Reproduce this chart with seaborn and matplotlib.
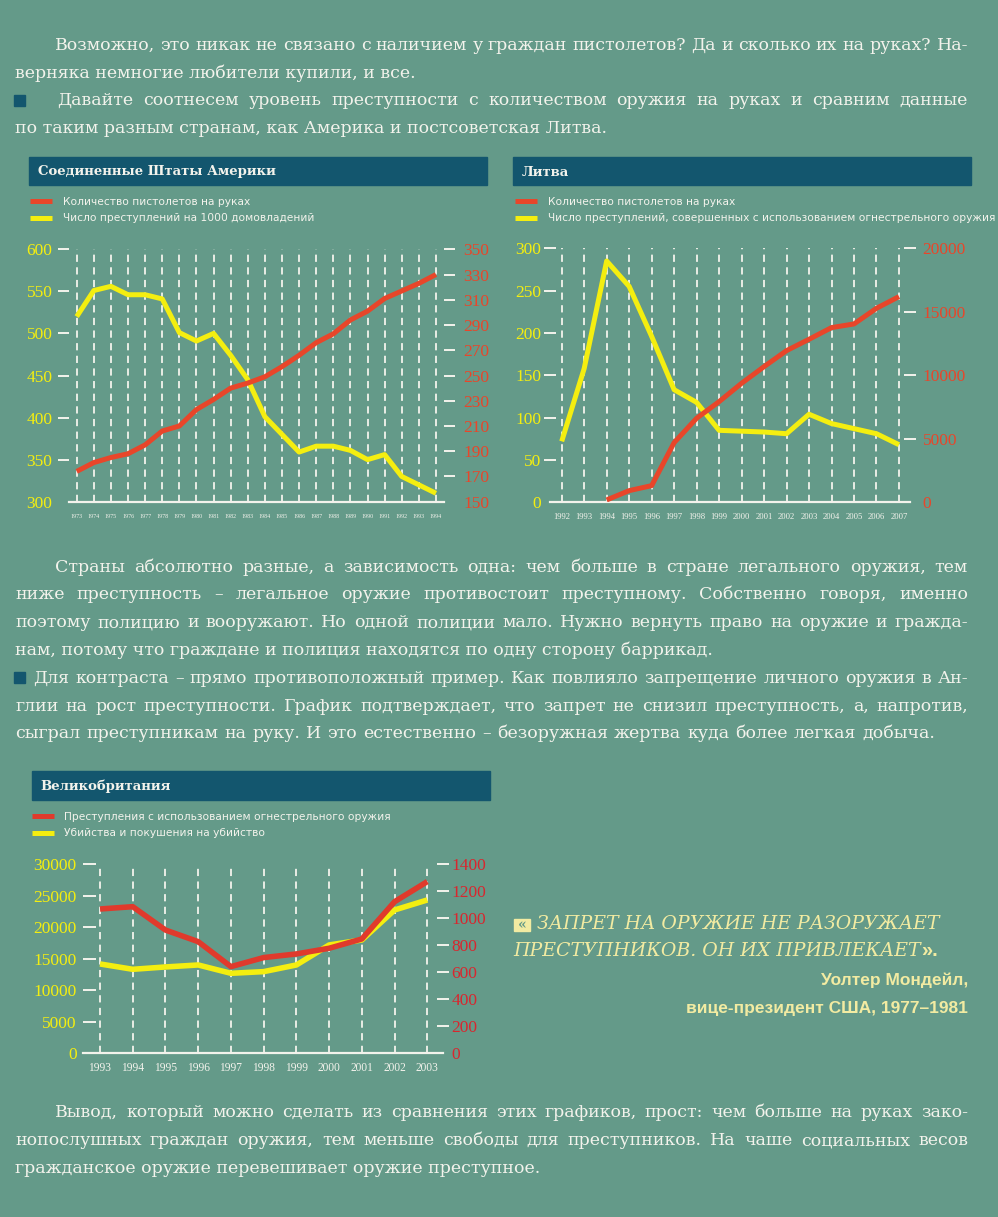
import numpy as np
import pandas as pd
import matplotlib
matplotlib.use('Agg')
import matplotlib.pyplot as plt
import seaborn as sns
from matplotlib.patches import Rectangle
from matplotlib.lines import Line2D

sns.set_style('white')
plt.rcParams['font.family'] = ['DejaVu Sans']

# ---------------- data ----------------
usa_years = list(range(1973, 1995))
usa_crimes = [520, 551, 556, 546, 546, 541, 501, 491, 500, 474, 445, 401,
              380, 359, 366, 366, 361, 350, 356, 330, 320, 310]
usa_guns = [174, 181, 185, 188, 195, 206, 210, 223, 231, 240, 244, 249,
            257, 266, 276, 283, 294, 301, 311, 317, 323, 330]

lt_years = list(range(1992, 2008))
lt_crimes = [72, 158, 285, 255, 196, 133, 118, 85, 84, 83, 81, 104, 93, 87, 81, 68]
lt_gun_years = list(range(1994, 2008))
lt_guns = [184, 919, 1312, 4698, 6614, 7927, 9371, 10683, 11943, 12836,
           13755, 14044, 15278, 16197]

uk_years = list(range(1993, 2004))
uk_gun_crimes = [1069, 1086, 913, 827, 642, 709, 736, 778, 847, 1123, 1272]
uk_murders = [14180, 13333, 13704, 14021, 12698, 12963, 14021, 17196, 17989, 22751, 24339]

usa_left_ticks = [300, 350, 400, 450, 500, 550, 600]
usa_right_ticks = [150, 170, 190, 210, 230, 250, 270, 290, 310, 330, 350]
lt_left_ticks = [0, 50, 100, 150, 200, 250, 300]
lt_right_ticks = [0, 5000, 10000, 15000, 20000]
uk_left_ticks = [0, 5000, 10000, 15000, 20000, 25000, 30000]
uk_right_ticks = [0, 200, 400, 600, 800, 1000, 1200, 1400]

usa_title = 'Соединенные Штаты Америки'
usa_labels = ['Количество пистолетов на руках', 'Число преступлений на 1000 домовладений']
lt_title = 'Литва'
lt_labels = ['Количество пистолетов на руках',
             'Число преступлений, совершенных с использованием огнестрельного оружия']
uk_title = 'Великобритания'
uk_labels = ['Преступления с использованием огнестрельного оружия',
             'Убийства и покушения на убийство']

# ---------------- style ----------------
BG = '#649a89'
BAR = '#13566e'
RED = '#e8462a'
UKRED = '#e03a2c'
YEL = '#f4ee10'
WHITE = '#f3f3ec'
QUOTE = '#f2eba2'
W, H = 998, 1217

fig = plt.figure(figsize=(W / 100, H / 100), dpi=100, facecolor=BG)
renderer = fig.canvas.get_renderer()


def fx(x):
    return x / W


def fy(y):
    return 1 - y / H


def axes_px(x0, x1, ytop, ybot):
    return fig.add_axes([x0 / W, 1 - ybot / H, (x1 - x0) / W, (ybot - ytop) / H])


def chart(spec):
    ax = axes_px(*spec['box'])
    ax.set_facecolor('none')
    ax2 = ax.twinx()
    ax2.set_facecolor('none')
    df_l = pd.DataFrame({'year': spec['ly'], 'v': spec['lv']})
    df_r = pd.DataFrame({'year': spec['ry'], 'v': spec['rv']})
    sns.lineplot(data=df_l, x='year', y='v', ax=ax, color=YEL, lw=spec['lw'],
                 solid_joinstyle='round', solid_capstyle='butt', legend=False)
    sns.lineplot(data=df_r, x='year', y='v', ax=ax2, color=spec['rc'], lw=spec['lw'],
                 solid_joinstyle='round', solid_capstyle='butt', legend=False)
    for a in (ax, ax2):
        a.set_xlim(*spec['xlim'])
        a.set_xlabel('')
        a.set_ylabel('')
        for s in a.spines.values():
            s.set_visible(False)
    ax.spines['bottom'].set_visible(True)
    ax.spines['bottom'].set_color(WHITE)
    ax.spines['bottom'].set_linewidth(1.6)
    ax.set_ylim(*spec['llim'])
    ax2.set_ylim(*spec['rlim'])
    ax.set_xticks(spec['years'])
    ax.set_xticklabels([str(y) for y in spec['years']], fontsize=spec['yfs'],
                       color=WHITE, family='Liberation Serif')
    ax.tick_params(axis='x', length=0, pad=spec['xpad'])
    ax.grid(axis='x', color=WHITE, linestyle=(0, (4, 3)), lw=1.3)
    ax.grid(axis='y', visible=False)
    ax2.grid(False)
    ax.set_axisbelow(True)
    ax.set_yticks(spec['lt'])
    ax.set_yticklabels([str(t) for t in spec['lt']], fontsize=spec['tfs'],
                       color=YEL, family='Liberation Serif')
    ax.tick_params(axis='y', left=True, direction=spec['ldir'], length=spec['tl'],
                   width=1.4, color=WHITE, pad=spec['lpad'])
    ax2.set_yticks(spec['rt'])
    ax2.set_yticklabels([str(t) for t in spec['rt']], fontsize=spec['tfs'],
                        color=spec['rlc'], family='Liberation Serif')
    ax2.tick_params(axis='y', right=True, direction=spec['rdir'], length=spec['tl'],
                    width=1.4, color=WHITE, pad=spec['rpad'])
    ax.yaxis.get_major_ticks()[0].tick1line.set_visible(False)
    ax2.yaxis.get_major_ticks()[0].tick2line.set_visible(False)
    # title bar
    x0, x1, y0, y1 = spec['bar']
    fig.patches.append(Rectangle((fx(x0), fy(y1)), (x1 - x0) / W, (y1 - y0) / H,
                                 transform=fig.transFigure, color=BAR, zorder=0))
    fig.text(fx(x0 + 9), fy((y0 + y1) / 2 + 1), spec['title'], color=WHITE,
             family='DejaVu Serif', weight='bold', fontsize=9.5, va='center', ha='left')
    handles = [Line2D([], [], color=spec['rc'], lw=3.6, solid_capstyle='butt'),
               Line2D([], [], color=YEL, lw=3.6, solid_capstyle='butt')]
    ax2.legend(handles, spec['labels'], loc='upper left',
               bbox_to_anchor=(fx(spec['leg'][0]), fy(spec['leg'][1])),
               bbox_transform=fig.transFigure, frameon=False, fontsize=7.7,
               labelcolor=WHITE, handlelength=2.1, handletextpad=0.95,
               labelspacing=0.6, borderpad=0, borderaxespad=0)
    return ax, ax2


chart(dict(box=(69, 444, 249.3, 501.7), xlim=(1972.55, 1994.47), years=usa_years,
           ly=usa_years, lv=usa_crimes, ry=usa_years, rv=usa_guns, rc=RED, rlc=RED,
           llim=(300, 600), rlim=(150, 350), lt=usa_left_ticks, rt=usa_right_ticks,
           lw=3.6, yfs=4.3, xpad=9, tfs=12.5, ldir='out', rdir='out', tl=8,
           lpad=4, rpad=6, bar=(29, 487, 157, 185), title=usa_title,
           labels=usa_labels, leg=(30, 197)))

chart(dict(box=(550, 910, 248.3, 502.3), xlim=(1991.48, 2007.49), years=lt_years,
           ly=lt_years, lv=lt_crimes, ry=lt_gun_years, rv=lt_guns, rc=RED, rlc=RED,
           llim=(0, 300), rlim=(0, 20000), lt=lt_left_ticks, rt=lt_right_ticks,
           lw=3.6, yfs=6.2, xpad=8, tfs=12.5, ldir='inout', rdir='inout', tl=9,
           lpad=2, rpad=4.5, bar=(513, 971, 157, 185), title=lt_title,
           labels=lt_labels, leg=(515, 197)))

chart(dict(box=(83, 442.7, 864.3, 1053.3), xlim=(1992.48, 2003.47), years=uk_years,
           ly=uk_years, lv=uk_murders, ry=uk_years, rv=uk_gun_crimes, rc=UKRED,
           rlc='#d9262e', llim=(0, 30000), rlim=(0, 1400), lt=uk_left_ticks,
           rt=uk_right_ticks, lw=4.0, yfs=8.3, xpad=6, tfs=12.5, ldir='in',
           rdir='inout', tl=9, lpad=4.5, rpad=2, bar=(31.7, 490, 771, 800),
           title=uk_title, labels=uk_labels, leg=(31.7, 812)))

# ---------------- body text ----------------
BODY_FS = 12.5
TXT = dict(family='DejaVu Serif', color=WHITE, va='baseline', ha='left',
           fontsize=BODY_FS)


def justify(line, x0, x1, y):
    words = line.split(' ')
    ts = [fig.text(0, fy(y + 5), w, **TXT) for w in words]
    widths = [t.get_window_extent(renderer).width for t in ts]
    gap = max((x1 - x0 - sum(widths)) / (len(words) - 1), 2.5)
    x = x0
    for t, w in zip(ts, widths):
        t.set_x(fx(x))
        x += w + gap


def plain(line, x0, y):
    fig.text(fx(x0), fy(y + 5), line, **TXT)


def square(y):
    fig.patches.append(Rectangle((fx(14), fy(y + 5.5)), 11 / W, 11 / H,
                                 transform=fig.transFigure, color=BAR, zorder=0))


justify('Возможно, это никак не связано с наличием у граждан пистолетов? Да и сколько их на руках? На-', 55, 968, 45)
plain('верняка немногие любители купили, и все.', 15, 73)
square(100)
justify('Давайте соотнесем уровень преступности с количеством оружия на руках и сравним данные', 57, 968, 100)
plain('по таким разным странам, как Америка и постсоветская Литва.', 15, 128)

justify('Страны абсолютно разные, а зависимость одна: чем больше в стране легального оружия, тем', 55, 968, 567)
justify('ниже преступность – легальное оружие противостоит преступному. Собственно говоря, именно', 15, 968, 594)
justify('поэтому полицию и вооружают. Но одной полиции мало. Нужно вернуть право на оружие и гражда-', 15, 968, 622)
plain('нам, потому что граждане и полиция находятся по одну сторону баррикад.', 15, 650)
square(678)
justify('Для контраста – прямо противоположный пример. Как повлияло запрещение личного оружия в Ан-', 33, 968, 678)
justify('глии на рост преступности. График подтверждает, что запрет не снизил преступность, а, напротив,', 15, 968, 706)
justify('сыграл преступникам на руку. И это естественно – безоружная жертва куда более легкая добыча.', 15, 935, 733)

justify('Вывод, который можно сделать из сравнения этих графиков, прост: чем больше на руках зако-', 55, 968, 1112)
justify('нопослушных граждан оружия, тем меньше свободы для преступников. На чаше социальных весов', 15, 968, 1140)
plain('гражданское оружие перевешивает оружие преступное.', 15, 1168)

# ---------------- quote ----------------
fig.patches.append(Rectangle((fx(514), fy(931)), 16 / W, 12 / H,
                             transform=fig.transFigure, color=QUOTE, zorder=0))
fig.text(fx(522), fy(925), '«', color=BG, fontsize=10, ha='center', va='center',
         family='DejaVu Serif', weight='bold')
QT = dict(family='DejaVu Serif', style='italic', fontsize=13.6, color=QUOTE,
          va='center', ha='left')
fig.text(fx(537), fy(924), 'ЗАПРЕТ НА ОРУЖИЕ НЕ РАЗОРУЖАЕТ', **QT)
t2 = fig.text(fx(513), fy(951), 'ПРЕСТУПНИКОВ. ОН ИХ ПРИВЛЕКАЕТ', **QT)
w2 = t2.get_window_extent(renderer).width
fig.text(fx(513 + w2 + 1), fy(951), '».', color=QUOTE, fontsize=14.5,
         family='Liberation Sans', weight='bold', va='center', ha='left')
AU = dict(family='Liberation Sans', weight='bold', fontsize=12.5, color=QUOTE,
          va='center', ha='right')
fig.text(fx(968), fy(980), 'Уолтер Мондейл,', **AU)
fig.text(fx(968), fy(1008), 'вице-президент США, 1977–1981', **AU)

fig.savefig('out.png', dpi=100, facecolor=BG)
